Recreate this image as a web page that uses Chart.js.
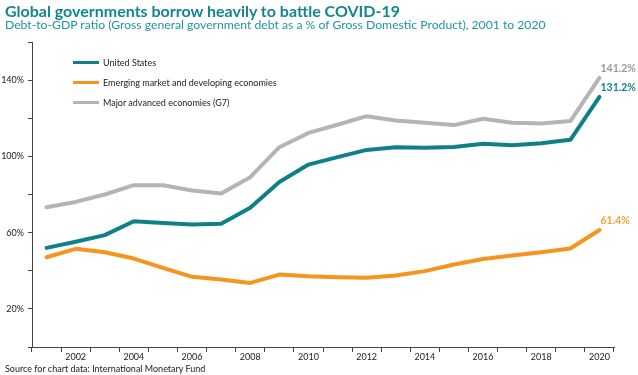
<!DOCTYPE html>
<html>
<head>
<meta charset="utf-8">
<script src="https://cdn.jsdelivr.net/npm/chart.js@4.4.0/dist/chart.umd.min.js"></script>
<style>
    body { margin: 0; background: #fff; font-family: Lato, sans-serif; }
    .wrap { position: relative; width: 638px; height: 375px; overflow: hidden; }
    #chart { position: absolute; left: 0; top: 0; }
    .title { position: absolute; left: 5px; top: 1px; font-size: 16px; font-weight: bold; color: #13868f; white-space: nowrap; }
    .subtitle { position: absolute; left: 5px; top: 17px; font-size: 12.2px; color: #1c97a1; white-space: nowrap; }
    .source { position: absolute; left: 5px; top: 363px; font-size: 9px; color: #222; white-space: nowrap; }
    .legend { position: absolute; left: 73px; top: 52px; font-size: 9px; color: #222; }
    .legend div { height: 20px; display: flex; align-items: center; }
    .legend span.swatch { display: inline-block; width: 26px; height: 3px; margin-right: 4px; }
</style>
</head>
<body>
<div class="wrap">
    <canvas id="chart" width="638" height="375"></canvas>
    <div class="title">Global governments borrow heavily to battle COVID-19</div>
    <div class="subtitle">Debt-to-GDP ratio (Gross general government debt as a % of Gross Domestic Product), 2001 to 2020</div>
    <div class="legend" id="legend"></div>
    <div class="source">Source for chart data: International Monetary Fund</div>
</div>
<script>
// Data (percent of GDP)
const years = ['2001', '2002', '2003', '2004', '2005', '2006', '2007', '2008', '2009', '2010',
               '2011', '2012', '2013', '2014', '2015', '2016', '2017', '2018', '2019', '2020'];
const usDebt = [52.0, 55.2, 58.7, 66.0, 65.1, 64.3, 64.6, 73.0, 86.6, 95.7,
                99.6, 103.4, 104.8, 104.5, 104.9, 106.6, 105.8, 106.9, 108.7, 131.2];
const emergingDebt = [47.1, 51.5, 49.7, 46.4, 41.5, 36.8, 35.4, 33.6, 38.0, 37.1,
                      36.6, 36.3, 37.5, 39.8, 43.3, 46.2, 48.0, 49.7, 51.7, 61.4];
const g7Debt = [73.3, 76.1, 80.0, 84.9, 84.9, 82.1, 80.5, 89.1, 104.8, 112.3,
                116.6, 121.1, 118.8, 117.6, 116.4, 119.7, 117.6, 117.3, 118.5, 141.2];
const seriesNames = ['United States', 'Emerging market and developing economies', 'Major advanced economies (G7)'];
const yTickLabels = [20, 60, 100, 140];

const teal = '#0f8088';
const orange = '#f7941d';
const grey = '#b4b4b4';

// labels at the end of each line
const endLabels = {
    id: 'endLabels',
    afterDatasetsDraw(chart) {
        const ctx = chart.ctx;
        const colors = ['#13868f', '#f7a233', '#999999'];
        ctx.save();
        ctx.font = 'bold 10.5px Lato, sans-serif';
        ctx.textAlign = 'left';
        ctx.textBaseline = 'middle';
        chart.data.datasets.forEach((ds, i) => {
            const meta = chart.getDatasetMeta(i);
            const pt = meta.data[meta.data.length - 1];
            const v = ds.data[ds.data.length - 1];
            ctx.fillStyle = colors[i];
            ctx.fillText(v.toFixed(1) + '%', pt.x + 1, pt.y - 9);
        });
        ctx.restore();
    }
};

const chart = new Chart(document.getElementById('chart'), {
    type: 'line',
    data: {
        labels: years,
        datasets: [{
            label: seriesNames[0],
            data: usDebt,
            borderColor: teal,
            order: 1
        }, {
            label: seriesNames[1],
            data: emergingDebt,
            borderColor: orange,
            order: 2
        }, {
            label: seriesNames[2],
            data: g7Debt,
            borderColor: grey,
            order: 3
        }]
    },
    options: {
        responsive: false,
        animation: false,
        layout: { padding: { left: 0, right: 24, top: 42, bottom: 8 } },
        elements: {
            line: { borderWidth: 4, tension: 0, borderCapStyle: 'round', borderJoinStyle: 'round' },
            point: { radius: 0 }
        },
        plugins: {
            legend: { display: false },
            tooltip: { enabled: false }
        },
        scales: {
            x: {
                offset: true,
                grid: { offset: true, drawOnChartArea: false, drawTicks: true, tickLength: 5, color: '#444' },
                border: { display: true, color: '#444', width: 1 },
                ticks: {
                    autoSkip: false,
                    maxRotation: 0,
                    padding: 0,
                    color: '#222',
                    font: { family: 'Lato, sans-serif', size: 9 },
                    callback: function(val) {
                        const y = this.getLabelForValue(val);
                        return Number(y) % 2 === 0 ? y : '';
                    }
                },
                afterFit: s => { s.height = 20; }
            },
            y: {
                min: 0,
                max: 160,
                grid: { drawOnChartArea: false, drawTicks: true, tickLength: 4, color: '#444' },
                border: { display: true, color: '#444', width: 1 },
                ticks: {
                    stepSize: 20,
                    padding: 4,
                    color: '#222',
                    font: { family: 'Lato, sans-serif', size: 9 },
                    callback: v => yTickLabels.includes(v) ? v + '%' : ''
                },
                afterFit: s => { s.width = 32; }
            }
        }
    },
    plugins: [endLabels]
});

// simple HTML legend
const legend = document.getElementById('legend');
chart.data.datasets.forEach(ds => {
    const row = document.createElement('div');
    row.innerHTML = '<span class="swatch" style="background:' + ds.borderColor + '"></span>' + ds.label;
    legend.appendChild(row);
});
</script>
</body>
</html>
